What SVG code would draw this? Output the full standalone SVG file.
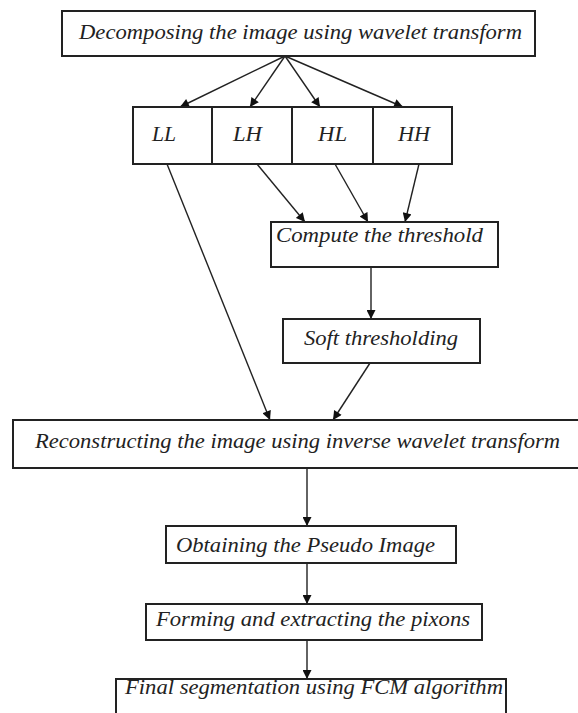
<svg xmlns="http://www.w3.org/2000/svg" width="578" height="713" viewBox="0 0 578 713">
<style>
.box{fill:#fff;stroke:#222;stroke-width:2}
.t{font-family:"Liberation Serif","Times New Roman",serif;font-style:italic;font-size:20px;fill:#222}
.c{stroke:#222;stroke-width:1.4;fill:none;marker-end:url(#ah)}
</style>
<defs>
<marker id="ah" viewBox="0 0 10 10" refX="10" refY="5" markerWidth="10" markerHeight="9" markerUnits="userSpaceOnUse" orient="auto">
<path d="M0,0 L10,5 L0,10 z" fill="#111"/>
</marker>
</defs>
<rect width="578" height="713" fill="#fff"/>
<g id="connectors">
<line class="c" x1="285" y1="56" x2="180" y2="107"/>
<line class="c" x1="285" y1="56" x2="250" y2="107"/>
<line class="c" x1="285" y1="56" x2="320" y2="107"/>
<line class="c" x1="285" y1="56" x2="403" y2="107"/>
<line class="c" x1="167" y1="164" x2="270" y2="420"/>
<line class="c" x1="257" y1="164" x2="305" y2="222"/>
<line class="c" x1="335" y1="164" x2="368" y2="222"/>
<line class="c" x1="419" y1="164" x2="405" y2="222"/>
<line class="c" x1="371" y1="267" x2="371" y2="319"/>
<line class="c" x1="370" y1="363" x2="333" y2="420"/>
<line class="c" x1="307" y1="468" x2="307" y2="526"/>
<line class="c" x1="307" y1="563" x2="307" y2="604"/>
<line class="c" x1="307" y1="640" x2="307" y2="679"/>
</g>
<g id="decompose">
<rect class="box" x="62" y="11" width="473" height="45"/>
<text class="t" x="79" y="39" textLength="443" lengthAdjust="spacingAndGlyphs">Decomposing the image using wavelet transform</text>
</g>
<g id="LL">
<rect class="box" x="133" y="107" width="79" height="57"/>
<text class="t" x="152" y="141" textLength="24" lengthAdjust="spacingAndGlyphs">LL</text>
</g>
<g id="LH">
<rect class="box" x="212" y="107" width="80" height="57"/>
<text class="t" x="233" y="141" textLength="29" lengthAdjust="spacingAndGlyphs">LH</text>
</g>
<g id="HL">
<rect class="box" x="292" y="107" width="81" height="57"/>
<text class="t" x="318" y="141" textLength="29" lengthAdjust="spacingAndGlyphs">HL</text>
</g>
<g id="HH">
<rect class="box" x="373" y="107" width="79" height="57"/>
<text class="t" x="398" y="141" textLength="32" lengthAdjust="spacingAndGlyphs">HH</text>
</g>
<g id="compute">
<rect class="box" x="271" y="222" width="227" height="45"/>
<text class="t" x="276" y="242" textLength="207" lengthAdjust="spacingAndGlyphs">Compute the threshold</text>
</g>
<g id="soft">
<rect class="box" x="283" y="319" width="197" height="44"/>
<text class="t" x="304" y="345" textLength="154" lengthAdjust="spacingAndGlyphs">Soft thresholding</text>
</g>
<g id="reconstruct">
<rect class="box" x="13" y="420" width="570" height="48"/>
<text class="t" x="35" y="448" textLength="525" lengthAdjust="spacingAndGlyphs">Reconstructing the image using inverse wavelet transform</text>
</g>
<g id="pseudo">
<rect class="box" x="166" y="526" width="290" height="37"/>
<text class="t" x="176" y="552" textLength="259" lengthAdjust="spacingAndGlyphs">Obtaining the Pseudo Image</text>
</g>
<g id="pixons">
<rect class="box" x="146" y="604" width="336" height="36"/>
<text class="t" x="156" y="626" textLength="314" lengthAdjust="spacingAndGlyphs">Forming and extracting the pixons</text>
</g>
<g id="final">
<rect class="box" x="116" y="679" width="390" height="50"/>
<text class="t" x="125" y="694" textLength="378" lengthAdjust="spacingAndGlyphs">Final segmentation using FCM algorithm</text>
</g>
</svg>
